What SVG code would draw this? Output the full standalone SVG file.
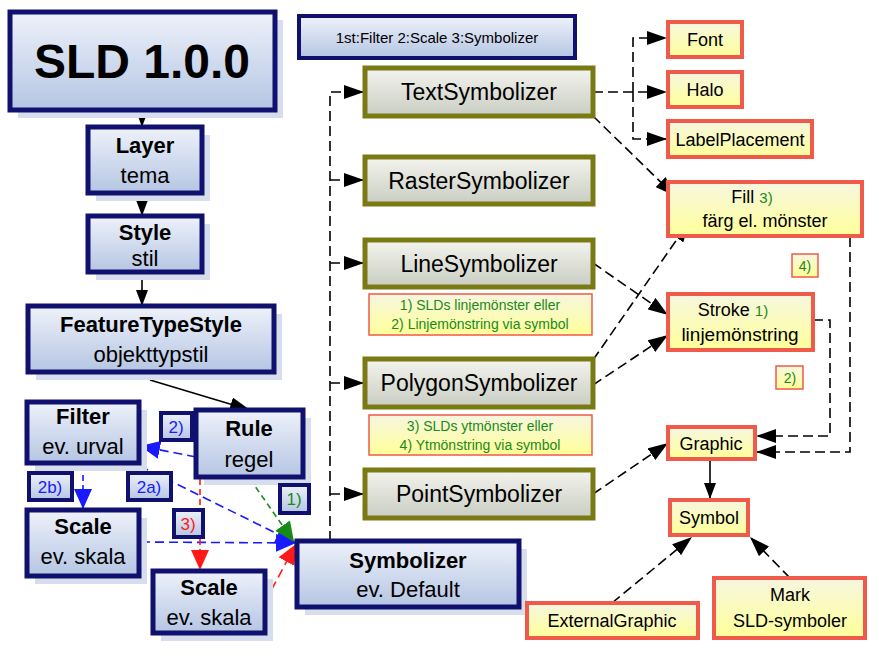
<svg xmlns="http://www.w3.org/2000/svg" width="879" height="658" viewBox="0 0 879 658">
<defs>
<linearGradient id="gb" x1="0" y1="0" x2="0" y2="1"><stop offset="0" stop-color="#eef2fa"/><stop offset="1" stop-color="#b5c5e3"/></linearGradient>
<linearGradient id="gg" x1="0" y1="0" x2="0" y2="1"><stop offset="0" stop-color="#f4f4ee"/><stop offset="1" stop-color="#c9cdc2"/></linearGradient>
<linearGradient id="gy" x1="0" y1="0" x2="0" y2="1"><stop offset="0" stop-color="#f6f6e0"/><stop offset="1" stop-color="#ffff99"/></linearGradient>
<marker id="ak" markerWidth="16" markerHeight="12" refX="16" refY="6" orient="auto" markerUnits="userSpaceOnUse" viewBox="0 0 16 12"><path d="M0,0 L16,6 L0,12 z" fill="#000"/></marker>
<marker id="ab" markerWidth="20" markerHeight="18" refX="20" refY="9" orient="auto" markerUnits="userSpaceOnUse" viewBox="0 0 20 18"><path d="M0,0 L20,9 L0,18 z" fill="#1a1aff"/></marker>
<marker id="ar" markerWidth="20" markerHeight="18" refX="20" refY="9" orient="auto" markerUnits="userSpaceOnUse" viewBox="0 0 20 18"><path d="M0,0 L20,9 L0,18 z" fill="#ff1a1a"/></marker>
<marker id="ag" markerWidth="20" markerHeight="18" refX="20" refY="9" orient="auto" markerUnits="userSpaceOnUse" viewBox="0 0 20 18"><path d="M0,0 L20,9 L0,18 z" fill="#188a18"/></marker>
<marker id="ak2" markerWidth="20" markerHeight="14" refX="20" refY="7" orient="auto" markerUnits="userSpaceOnUse" viewBox="0 0 20 14"><path d="M0,0 L20,7 L0,14 z" fill="#000"/></marker>
</defs>
<style>
text{font-family:"Liberation Sans",Arial,sans-serif;text-anchor:middle}
.b rect.m{fill:url(#gb);stroke:#10106e;stroke-width:5}
.sh{fill:#d6deee}
.o rect.m{fill:url(#gg);stroke:#7a7a14;stroke-width:5}
.r rect.m{fill:url(#gy);stroke:#f05a4a;stroke-width:4}
.n rect{fill:url(#gy);stroke:#f05a4a;stroke-width:1.5}
.t{font-size:22px}
.bt{font-size:22px;font-weight:bold}
.ot{font-size:23px}
.g{fill:#1a8a1a}
.lb rect{fill:url(#gb);stroke:#10106e;stroke-width:4}
.c{fill:none;stroke-width:1.6}
.k{stroke:#000;stroke-dasharray:10 5}
</style>
<g id="connectors">
<line class="c" stroke="#000" x1="142" y1="112" x2="142" y2="127" marker-end="url(#ak)"/>
<line class="c" stroke="#000" x1="142" y1="195" x2="142" y2="216" marker-end="url(#ak)"/>
<line class="c" stroke="#000" x1="142" y1="274" x2="142" y2="306" marker-end="url(#ak)"/>
<line class="c" stroke="#000" x1="150" y1="380" x2="250" y2="410" marker-end="url(#ak2)"/>
<line class="c" stroke="#1a1aff" stroke-dasharray="9 5" x1="196" y1="457" x2="140" y2="446" marker-end="url(#ab)"/>
<line class="c" stroke="#1a1aff" stroke-dasharray="6 4" x1="83" y1="465" x2="83" y2="509" marker-end="url(#ab)"/>
<line class="c" stroke="#1a1aff" stroke-dasharray="9 5" x1="140" y1="466" x2="296" y2="543" marker-end="url(#ab)"/>
<line class="c" stroke="#1a1aff" stroke-dasharray="9 5" x1="141" y1="542" x2="296" y2="543" marker-end="url(#ab)"/>
<line class="c" stroke="#ff1a1a" stroke-dasharray="6 4" x1="200" y1="479" x2="200" y2="570" marker-end="url(#ar)"/>
<line class="c" stroke="#ff1a1a" stroke-dasharray="9 5" x1="265" y1="602" x2="296" y2="544" marker-end="url(#ar)"/>
<line class="c" stroke="#188a18" stroke-dasharray="6 4" x1="250" y1="479" x2="294" y2="542" marker-end="url(#ag)"/>
<path class="c k" d="M330,541 V92 H364" marker-end="url(#ak2)"/>
<path class="c k" d="M330,180 H364" marker-end="url(#ak2)"/>
<path class="c k" d="M330,263 H364" marker-end="url(#ak2)"/>
<path class="c k" d="M330,383 H364" marker-end="url(#ak2)"/>
<path class="c k" d="M330,494 H364" marker-end="url(#ak2)"/>
<path class="c k" d="M593,92 H667" marker-end="url(#ak2)"/>
<path class="c k" d="M633,92 V38 H667" marker-end="url(#ak2)"/>
<path class="c k" d="M633,92 V139 H667" marker-end="url(#ak2)"/>
<line class="c k" x1="593" y1="116" x2="675" y2="196" marker-end="url(#ak2)"/>
<line class="c k" x1="593" y1="263" x2="668" y2="315" marker-end="url(#ak2)"/>
<line class="c k" x1="593" y1="360" x2="689" y2="222" marker-end="url(#ak2)"/>
<line class="c k" x1="593" y1="385" x2="668" y2="335" marker-end="url(#ak2)"/>
<path class="c k" d="M813,320 H830 V436 H756" marker-end="url(#ak2)"/>
<path class="c k" d="M850,237 V452 H756" marker-end="url(#ak2)"/>
<line class="c k" x1="593" y1="494" x2="668" y2="443" marker-end="url(#ak2)"/>
<line class="c" stroke="#000" x1="710" y1="460" x2="710" y2="499" marker-end="url(#ak)"/>
<line class="c k" x1="612" y1="603" x2="692" y2="537" marker-end="url(#ak2)"/>
<line class="c k" x1="790" y1="578" x2="750" y2="537" marker-end="url(#ak2)"/>
</g>
<g id="sld" class="b"><rect class="sh" x="18" y="20" width="265" height="98"/><rect class="m" x="10" y="12" width="265" height="98"/><text x="142" y="78" style="font-size:48px;font-weight:bold">SLD 1.0.0</text></g>
<g id="legend" class="b"><rect class="m" x="299" y="16" width="276" height="42" style="stroke-width:4"/><text x="437" y="43" style="font-size:15px">1st:Filter 2:Scale 3:Symbolizer</text></g>
<g id="layer" class="b"><rect class="sh" x="96" y="135" width="114" height="66"/><rect class="m" x="88" y="127" width="114" height="66"/><text class="bt" x="145" y="153">Layer</text><text class="t" x="145" y="183">tema</text></g>
<g id="style" class="b"><rect class="sh" x="96" y="224" width="114" height="56"/><rect class="m" x="88" y="216" width="114" height="56"/><text class="bt" x="145" y="240">Style</text><text class="t" x="145" y="266">stil</text></g>
<g id="fts" class="b"><rect class="sh" x="36" y="314" width="246" height="66"/><rect class="m" x="28" y="306" width="246" height="66"/><text class="bt" x="151" y="332">FeatureTypeStyle</text><text class="t" x="151" y="362">objekttypstil</text></g>
<g id="filter" class="b"><rect class="sh" x="35" y="410" width="112" height="61"/><rect class="m" x="27" y="402" width="112" height="61"/><text class="bt" x="83" y="424">Filter</text><text class="t" x="83" y="454">ev. urval</text></g>
<g id="rule" class="b"><rect class="sh" x="204" y="418" width="107" height="67"/><rect class="m" x="196" y="410" width="107" height="67"/><text class="bt" x="249" y="436">Rule</text><text class="t" x="249" y="467">regel</text></g>
<g id="scale1" class="b"><rect class="sh" x="35" y="518" width="112" height="66"/><rect class="m" x="27" y="510" width="112" height="66"/><text class="bt" x="83" y="534">Scale</text><text class="t" x="83" y="564">ev. skala</text></g>
<g id="scale2" class="b"><rect class="sh" x="161" y="579" width="112" height="62"/><rect class="m" x="153" y="571" width="112" height="62"/><text class="bt" x="209" y="595">Scale</text><text class="t" x="209" y="625">ev. skala</text></g>
<g id="symbolizer" class="b"><rect class="sh" x="305" y="549" width="222" height="66"/><rect class="m" x="297" y="541" width="222" height="66"/><text class="bt" x="408" y="568">Symbolizer</text><text class="t" x="408" y="597">ev. Default</text></g>
<g id="l2" class="lb"><rect x="161" y="413" width="31" height="27"/><text x="176" y="433" fill="#1a1aff" font-size="17">2)</text></g>
<g id="l2b" class="lb"><rect x="29" y="473" width="43" height="27"/><text x="50" y="493" fill="#1a1aff" font-size="17">2b)</text></g>
<g id="l2a" class="lb"><rect x="128" y="473" width="43" height="27"/><text x="149" y="493" fill="#1a1aff" font-size="17">2a)</text></g>
<g id="l3" class="lb"><rect x="174" y="510" width="29" height="27"/><text x="188" y="530" fill="#ff1a1a" font-size="17">3)</text></g>
<g id="l1" class="lb"><rect x="280" y="485" width="29" height="28"/><text x="294" y="505" fill="#1a8a1a" font-size="17">1)</text></g>
<g id="text" class="o"><rect class="m" x="365" y="68" width="228" height="48"/><text class="ot" x="479" y="100">TextSymbolizer</text></g>
<g id="raster" class="o"><rect class="m" x="365" y="157" width="228" height="47"/><text class="ot" x="479" y="189">RasterSymbolizer</text></g>
<g id="line" class="o"><rect class="m" x="365" y="240" width="228" height="47"/><text class="ot" x="479" y="272">LineSymbolizer</text></g>
<g id="polygon" class="o"><rect class="m" x="365" y="359" width="228" height="48"/><text class="ot" x="479" y="391">PolygonSymbolizer</text></g>
<g id="point" class="o"><rect class="m" x="365" y="470" width="228" height="48"/><text class="ot" x="479" y="502">PointSymbolizer</text></g>
<g id="note1" class="n"><rect x="369" y="294" width="223" height="41"/><text class="g" x="480" y="310" font-size="14">1) SLDs linjemönster eller</text><text class="g" x="480" y="329" font-size="14">2) Linjemönstring via symbol</text></g>
<g id="note2" class="n"><rect x="369" y="415" width="223" height="40"/><text class="g" x="480" y="431" font-size="14">3) SLDs ytmönster eller</text><text class="g" x="480" y="450" font-size="14">4) Ytmönstring via symbol</text></g>
<g id="font" class="r"><rect class="m" x="668" y="22" width="74" height="35"/><text x="705" y="46" font-size="18">Font</text></g>
<g id="halo" class="r"><rect class="m" x="668" y="72" width="74" height="35"/><text x="705" y="96" font-size="18">Halo</text></g>
<g id="labelplacement" class="r"><rect class="m" x="668" y="121" width="144" height="36"/><text x="740" y="146" font-size="18">LabelPlacement</text></g>
<g id="fill" class="r"><rect class="m" x="668" y="182" width="194" height="54"/><text x="752" y="203" font-size="18">Fill <tspan class="g" font-size="15">3)</tspan></text><text x="765" y="227" font-size="18">färg el. mönster</text></g>
<g id="stroke" class="r"><rect class="m" x="668" y="294" width="145" height="56"/><text x="733" y="316" font-size="18">Stroke <tspan class="g" font-size="15">1)</tspan></text><text x="740" y="341" font-size="19">linjemönstring</text></g>
<g id="graphic" class="r"><rect class="m" x="668" y="427" width="87" height="32"/><text x="711" y="450" font-size="18">Graphic</text></g>
<g id="symbol" class="r"><rect class="m" x="670" y="500" width="78" height="35"/><text x="709" y="524" font-size="18">Symbol</text></g>
<g id="external" class="r"><rect class="m" x="527" y="603" width="171" height="35"/><text x="612" y="627" font-size="18">ExternalGraphic</text></g>
<g id="mark" class="r"><rect class="m" x="714" y="578" width="151" height="60"/><text x="790" y="601" font-size="18">Mark</text><text x="790" y="627" font-size="18">SLD-symboler</text></g>
<g id="n4" class="n"><rect x="792" y="254" width="26" height="23"/><text class="g" x="805" y="271" font-size="14">4)</text></g>
<g id="n2" class="n"><rect x="776" y="366" width="27" height="23"/><text class="g" x="790" y="383" font-size="14">2)</text></g>
</svg>
